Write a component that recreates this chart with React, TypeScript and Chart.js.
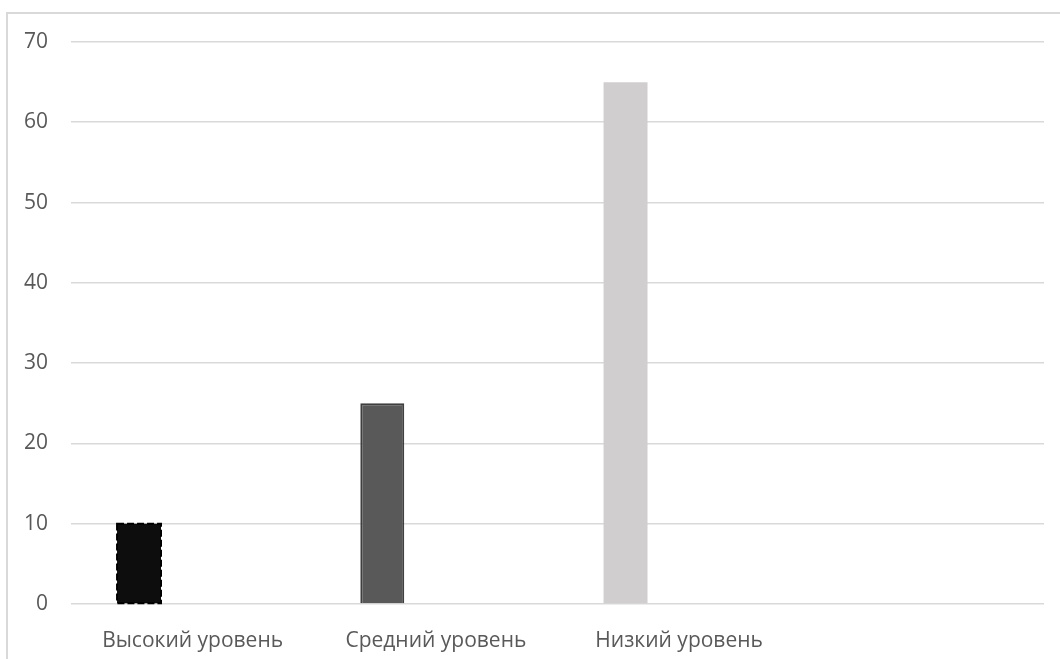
import React, { useEffect, useRef } from "react";
import { Chart, registerables } from "chart.js";

Chart.register(...registerables);

const categories = ["Высокий уровень", "Средний уровень", "Низкий уровень", ""];
const levelValues = [10, 25, 65, null];
const emptySeriesA = [null, null, null, null];
const emptySeriesB = [null, null, null, null];
const barColors = ["#0d0d0d", "#595959", "#d0cece", "#d0cece"];
const barBorders = ["#0d0d0d", "#3f3f3f", "#d0cece", "#d0cece"];
const barBorderWidths = [0, 2, 0, 0];
const yTicks = [0, 10, 20, 30, 40, 50, 60, 70];

const dashedFirstBar = {
  id: "dashedFirstBar",
  afterDatasetsDraw(chart: any) {
    const meta = chart.getDatasetMeta(0);
    const el = meta.data[0];
    if (!el) return;
    const { x, y, base, width } = el.getProps(["x", "y", "base", "width"], true);
    const ctx = chart.ctx;
    ctx.save();
    ctx.setLineDash([7, 3]);
    ctx.lineWidth = 2;
    ctx.strokeStyle = "#000000";
    ctx.strokeRect(x - width / 2, y, width, base - y);
    ctx.restore();
  },
};

export default function App() {
  const ref = useRef<HTMLCanvasElement | null>(null);

  useEffect(() => {
    if (!ref.current) return;
    const chart = new Chart(ref.current, {
      type: "bar",
      data: {
        labels: categories,
        datasets: [
          {
            label: "Уровень",
            data: levelValues as any,
            backgroundColor: barColors,
            borderColor: barBorders,
            borderWidth: barBorderWidths,
            barPercentage: 0.82,
            categoryPercentage: 0.661,
          },
          {
            label: "Ряд2",
            data: emptySeriesA as any,
            backgroundColor: "#000",
            barPercentage: 0.82,
            categoryPercentage: 0.661,
          },
          {
            label: "Ряд3",
            data: emptySeriesB as any,
            backgroundColor: "#000",
            barPercentage: 0.82,
            categoryPercentage: 0.661,
          },
        ],
      },
      options: {
        animation: false,
        responsive: true,
        maintainAspectRatio: false,
        layout: { padding: { top: 42, right: 16, bottom: 0, left: 0 } },
        plugins: {
          legend: { display: false },
          tooltip: { enabled: false },
        },
        scales: {
          x: {
            grid: { display: false },
            border: { display: false },
            ticks: {
              color: "#595959",
              font: { family: "'Open Sans'", size: 21 },
              padding: 16,
              maxRotation: 0,
              autoSkip: false,
            },
            afterFit(scale: any) {
              scale.height = 55;
            },
          },
          y: {
            min: 0,
            max: 70,
            afterBuildTicks(scale: any) {
              scale.ticks = yTicks.map((v) => ({ value: v }));
            },
            grid: { color: "#d9d9d9", lineWidth: 1.6, drawTicks: false },
            border: { display: false },
            ticks: {
              color: "#595959",
              font: { family: "'Open Sans'", size: 21 },
              padding: 23,
            },
            afterFit(scale: any) {
              scale.width = 71;
            },
          },
        },
      },
      plugins: [dashedFirstBar],
    });
    return () => chart.destroy();
  }, []);

  return (
    <div
      style={{
        position: "fixed",
        left: 0,
        top: 0,
        width: 1060,
        height: 659,
        overflow: "hidden",
        background: "#ffffff",
      }}
    >
      <div
        style={{
          position: "absolute",
          left: 6,
          top: 12,
          width: 1200,
          height: 800,
          border: "2px solid #d9d9d9",
        }}
      />
      <div style={{ position: "absolute", left: 0, top: 0, width: 1060, height: 659 }}>
        <canvas ref={ref} />
      </div>
    </div>
  );
}
